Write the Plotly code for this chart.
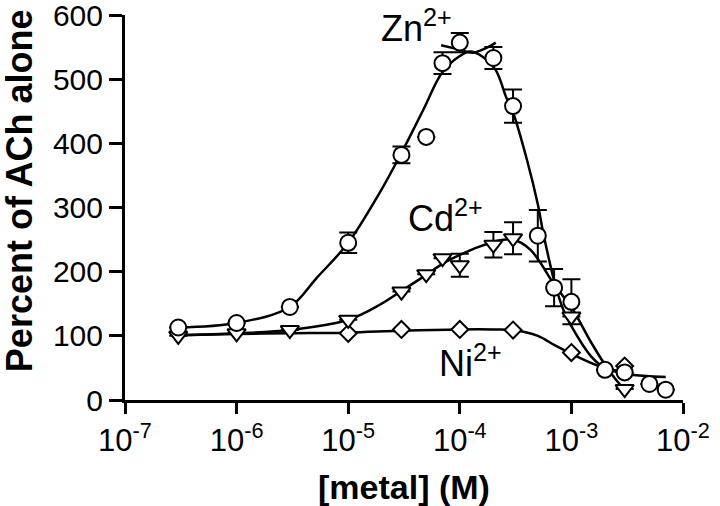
import math
import plotly.graph_objects as go

# ---------------- data ----------------
zn_x = [3e-7, 1e-6, 3e-6, 1e-5, 3e-5, 5e-5, 7e-5, 1e-4, 2e-4, 3e-4, 5e-4, 7e-4, 1e-3, 2e-3, 3e-3, 5e-3, 7e-3]
zn_y = [113, 120, 145, 245, 382, 410, 525, 557, 533, 458, 256, 175, 153, 47, 43, 25, 16]
zn_err = [None, None, None, 16, 13, None, 17, 15, 17, 26, 40, 29, 35, None, None, None, None]

cd_x = [3e-7, 1e-6, 3e-6, 1e-5, 3e-5, 5e-5, 7e-5, 1e-4, 2e-4, 3e-4, 1e-3, 3e-3]
cd_y = [100, 104, 109, 125, 169, 196, 221, 210, 242, 252, 130, 17]
cd_err = [None, None, None, None, None, None, None, 18, 20, 25, None, None]

ni_x = [1e-5, 3e-5, 1e-4, 3e-4, 1e-3, 3e-3]
ni_y = [104, 110, 110, 109, 74, 53]

# fitted curves
zn_fit_x = [3e-7, 1e-6, 3e-6, 5.2e-6, 1e-5, 1.9e-5, 3e-5, 4.7e-5, 7e-5, 1e-4, 1.23e-4, 1.6e-4,
            2.1e-4, 2.6e-4, 3e-4, 4e-4, 5e-4, 5.6e-4, 7.1e-4, 8.5e-4, 1e-3, 1.5e-3, 2e-3, 3e-3, 5e-3, 7e-3]
zn_fit_y = [113, 120, 145, 190, 245, 322, 385, 452, 511, 536, 543, 535,
            514, 472, 448, 374, 305, 260, 182, 140, 115, 68, 50, 41, 37, 36]

zn_arc_x = [6.8e-5, 1e-4, 1.3e-4, 1.7e-4, 2.1e-4]
zn_arc_y = [553, 546, 541, 548, 557]

cd_fit_x = [3e-7, 1e-6, 3e-6, 1e-5, 1.9e-5, 3e-5, 5e-5, 7.1e-5, 1e-4, 1.5e-4, 2.3e-4, 3e-4,
            4.3e-4, 6.9e-4, 8.5e-4, 1e-3, 1.5e-3, 2e-3, 2.5e-3, 3e-3]
cd_fit_y = [101, 104, 109, 125, 148, 170, 195, 213, 226, 239, 249, 250,
            234, 182, 161, 145, 90, 55, 32, 16]

ni_fit_x = [3e-7, 1e-6, 3e-6, 1e-5, 3e-5, 1e-4, 2e-4, 3e-4, 5e-4, 7e-4, 1e-3, 1.7e-3, 2.3e-3, 3e-3]
ni_fit_y = [101, 103, 104, 105, 108, 110, 110, 109, 100, 86, 72, 54, 47, 45]

x_ticks = [1e-7, 1e-6, 1e-5, 1e-4, 1e-3, 1e-2]
x_ticktext = ["10<sup>-7</sup>", "10<sup>-6</sup>", "10<sup>-5</sup>",
              "10<sup>-4</sup>", "10<sup>-3</sup>", "10<sup>-2</sup>"]
y_ticks = [0, 100, 200, 300, 400, 500, 600]

labels = ["Zn<sup>2+</sup>", "Cd<sup>2+</sup>", "Ni<sup>2+</sup>"]
label_x = [10 ** -4.39, 10 ** -4.13, 10 ** -3.9]
label_y = [583, 286, 61]

x_title = "[metal] (M)"
y_title = "Percent of ACh alone"

FONT = "Liberation Sans, Arial, Helvetica, sans-serif"
LW = 2.5

fig = go.Figure()

# fitted curves
for fx, fy in [(ni_fit_x, ni_fit_y), (cd_fit_x, cd_fit_y), (zn_fit_x, zn_fit_y), (zn_arc_x, zn_arc_y)]:
    fig.add_trace(go.Scatter(x=fx, y=fy, mode="lines",
                             line=dict(color="black", width=LW, shape="spline", smoothing=1.0),
                             hoverinfo="skip", showlegend=False, cliponaxis=False))

# error bars (drawn beneath markers)
for ex, ey, ee in [(cd_x, cd_y, cd_err), (zn_x, zn_y, zn_err)]:
    fig.add_trace(go.Scatter(x=ex, y=ey, mode="markers", marker=dict(size=1, color="rgba(0,0,0,0)"),
                             error_y=dict(type="data", array=ee, visible=True, color="black", thickness=2, width=9),
                             hoverinfo="skip", showlegend=False, cliponaxis=False))

# markers
fig.add_trace(go.Scatter(x=ni_x, y=ni_y, mode="markers",
                         marker=dict(symbol="diamond", size=13, color="white", line=dict(color="black", width=2)),
                         showlegend=False, cliponaxis=False))
fig.add_trace(go.Scatter(x=cd_x, y=cd_y, mode="markers",
                         marker=dict(symbol="triangle-down", size=16, color="white", line=dict(color="black", width=2)),
                         showlegend=False, cliponaxis=False))
fig.add_trace(go.Scatter(x=zn_x, y=zn_y, mode="markers",
                         marker=dict(symbol="circle", size=16, color="white", line=dict(color="black", width=2)),
                         showlegend=False, cliponaxis=False))

# series labels (log axis: annotation x in log10 units)
for t, lx, ly in zip(labels, label_x, label_y):
    fig.add_annotation(x=math.log10(lx), y=ly, xref="x", yref="y", text=t, showarrow=False,
                       xanchor="center", yanchor="middle", font=dict(family=FONT, size=36, color="black"))

# axis titles
fig.add_annotation(x=0.50, y=-0.225, xref="paper", yref="paper", text="<b>" + x_title + "</b>",
                   showarrow=False, xanchor="center", yanchor="middle",
                   font=dict(family=FONT, size=34, color="black"))
fig.add_annotation(x=-0.19, y=0.545, xref="paper", yref="paper", text="<b>" + y_title + "</b>",
                   showarrow=False, xanchor="center", yanchor="middle", textangle=-90,
                   font=dict(family=FONT, size=36, color="black"))

fig.update_layout(
    width=720, height=506,
    margin=dict(l=125, r=37, t=15, b=106, pad=0, autoexpand=False),
    plot_bgcolor="white", paper_bgcolor="white",
    font=dict(family=FONT, color="black"),
    hovermode=False,
    xaxis=dict(type="log", range=[-7, -2], tickvals=x_ticks, ticktext=x_ticktext, automargin=False,
               showline=True, linecolor="black", linewidth=3, ticks="outside", ticklen=11, tickwidth=3,
               tickcolor="black", showgrid=False, zeroline=False, tickfont=dict(size=31, family=FONT),
               ticklabeloverflow="allow"),
    yaxis=dict(range=[0, 600], tickvals=y_ticks, showline=True, linecolor="black", linewidth=3, automargin=False,
               ticks="outside", ticklen=13, tickwidth=3, tickcolor="black", showgrid=False, zeroline=False,
               tickfont=dict(size=30, family=FONT), ticklabeloverflow="allow"),
)

fig.write_html("out.html", config={"displayModeBar": False, "staticPlot": True},
               post_script="document.body.style.margin='0';")
